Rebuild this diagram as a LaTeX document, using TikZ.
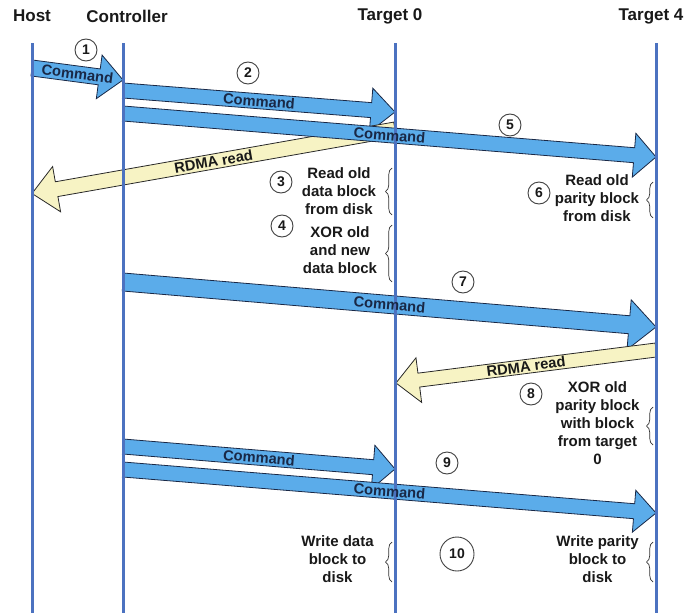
\documentclass[tikz,border=0pt]{standalone}
\usepackage{fontspec}
\setmainfont{Liberation Sans}
\usetikzlibrary{calc,decorations.pathreplacing}
\definecolor{lifeblue}{RGB}{76,114,192}
\definecolor{cmdfill}{RGB}{91,172,234}
\definecolor{cmdedge}{RGB}{25,40,70}
\definecolor{rdmafill}{RGB}{247,243,196}
\definecolor{rdmaedge}{RGB}{40,40,40}
\definecolor{txt}{RGB}{25,25,25}
\newcommand{\blockarrow}[6]{%
  \path coordinate (ba-b) at ($(#2)!#5!(#1)$);
  \draw[#6] ($(#1)!#3!90:(#2)$) -- ($(ba-b)!#3!90:(#2)$) -- ($(ba-b)!#4!90:(#2)$)
    -- (#2) -- ($(ba-b)!#4!-90:(#2)$) -- ($(ba-b)!#3!-90:(#2)$) -- ($(#1)!#3!-90:(#2)$) -- cycle;
}
\tikzset{
  cmdarrow/.style={fill=cmdfill, draw=cmdedge, line width=0.8pt, line join=miter},
  rdmaarrow/.style={fill=rdmafill, draw=rdmaedge, line width=0.8pt, line join=miter},
  lifeline/.style={draw=lifeblue, line width=3pt},
  title/.style={font=\fontsize{17}{20}\selectfont\bfseries, text=txt},
  cmdtext/.style={font=\fontsize{14.7}{17}\selectfont\bfseries, text=cmdedge, inner sep=0pt},
  rdmatext/.style={font=\fontsize{14.7}{17}\selectfont\bfseries, text=txt, inner sep=0pt},
  body/.style={font=\fontsize{15}{18}\selectfont\bfseries, text=txt, align=center, inner sep=0pt},
  stepnum/.style={circle, draw=black!75, line width=0.9pt, minimum size=22pt, inner sep=0pt,
    font=\fontsize{14}{16}\selectfont\bfseries, text=txt},
  bracedeco/.style={draw=black!80, line width=0.7pt, decorate, decoration={brace, amplitude=6.5pt}}
}
\begin{document}
\begin{tikzpicture}[x=1pt, y=-1pt]
\useasboundingbox (0,0) rectangle (691,613);
% titles
\node[title] (thost) at (32,16) {Host};
\node[title] (tctrl) at (127,16) {Controller};
\node[title] (tt0) at (390,16) {Target 0};
\node[title] (tt4) at (651,16) {Target 4};
% lifeline end points
\coordinate (hostTop) at (32,43);   \coordinate (hostBot) at (32,613);
\coordinate (ctrlTop) at (123,43);  \coordinate (ctrlBot) at (123,613);
\coordinate (t0Top) at (395,43);    \coordinate (t0Bot) at (395,613);
\coordinate (t4Top) at (656,43);    \coordinate (t4Bot) at (656,613);
% arrow end points
\coordinate (a1s) at (32,68);     \coordinate (a1e) at (123,80);
\coordinate (a2s) at (123,90.5);  \coordinate (a2e) at (395,112);
\coordinate (r1s) at (395,129.5); \coordinate (r1e) at (32,193.5);
\coordinate (a5s) at (123,113.5); \coordinate (a5e) at (656,157);
\coordinate (a7s) at (123,282);   \coordinate (a7e) at (656,327);
\coordinate (r2s) at (656,350);   \coordinate (r2e) at (396,383);
\coordinate (a9s) at (123,446.5); \coordinate (a9e) at (395,469);
\coordinate (b9s) at (123,469.5); \coordinate (b9e) at (656,513);
% arrows
\blockarrow{a1s}{a1e}{8pt}{22pt}{24pt}{cmdarrow}
\blockarrow{a2s}{a2e}{7.5pt}{22pt}{24pt}{cmdarrow}
\blockarrow{r1s}{r1e}{7.5pt}{23pt}{25pt}{rdmaarrow}
\blockarrow{a5s}{a5e}{7.5pt}{22pt}{22pt}{cmdarrow}
\blockarrow{a7s}{a7e}{9pt}{25pt}{27pt}{cmdarrow}
\blockarrow{r2s}{r2e}{7pt}{22.5pt}{23pt}{rdmaarrow}
\blockarrow{a9s}{a9e}{7.5pt}{22pt}{22pt}{cmdarrow}
\blockarrow{b9s}{b9e}{7.5pt}{21pt}{22pt}{cmdarrow}
% lifelines
\draw[lifeline] (hostTop) -- (hostBot);
\draw[lifeline] (ctrlTop) -- (ctrlBot);
\draw[lifeline] (t0Top) -- (t0Bot);
\draw[lifeline] (t4Top) -- (t4Bot);
% arrow labels
\path (a1s) -- (a1e) node[cmdtext, pos=0.5, sloped] (l1) {Command};
\path (a2s) -- (a2e) node[cmdtext, pos=0.5, sloped] (l2) {Command};
\path (r1s) -- (r1e) node[rdmatext, pos=0.5, sloped] (l3) {RDMA read};
\path (a5s) -- (a5e) node[cmdtext, pos=0.5, sloped] (l5) {Command};
\path (a7s) -- (a7e) node[cmdtext, pos=0.5, sloped] (l7) {Command};
\path (r2s) -- (r2e) node[rdmatext, pos=0.5, sloped] (l8) {RDMA read};
\path (a9s) -- (a9e) node[cmdtext, pos=0.5, sloped] (l9) {Command};
\path (b9s) -- (b9e) node[cmdtext, pos=0.5, sloped] (l10) {Command};
% step numbers
\node[stepnum] (s1) at (86,50) {1};
\node[stepnum] (s2) at (248,73) {2};
\node[stepnum] (s3) at (281,182) {3};
\node[stepnum] (s4) at (282,226) {4};
\node[stepnum] (s5) at (510,125) {5};
\node[stepnum] (s6) at (539,193) {6};
\node[stepnum] (s7) at (463,282) {7};
\node[stepnum] (s8) at (531,394) {8};
\node[stepnum] (s9) at (447,463) {9};
\node[stepnum, minimum size=34pt] (s10) at (457,554) {10};
% descriptions
\node[body] (d3) at (339,191) {Read old\\data block\\from disk};
\node[body] (d4) at (340,250) {XOR old\\and new\\data block};
\node[body] (d6) at (597,198) {Read old\\parity block\\from disk};
\node[body] (d8) at (597.5,423.5) {XOR old\\parity block\\with block\\from target\\0};
\node[body] (dw0) at (337.5,559) {Write data\\block to\\disk};
\node[body] (dw4) at (597.5,559) {Write parity\\block to\\disk};
% braces
\coordinate (b3a) at (392,215); \coordinate (b3b) at (392,168);
\coordinate (b4a) at (392,282); \coordinate (b4b) at (392,225);
\coordinate (b6a) at (653,218); \coordinate (b6b) at (653,182);
\coordinate (b8a) at (653,445); \coordinate (b8b) at (653,407);
\coordinate (bwa) at (392,582); \coordinate (bwb) at (392,542);
\coordinate (bxa) at (653,582); \coordinate (bxb) at (653,542);
\draw[bracedeco] (b3a) -- (b3b);
\draw[bracedeco] (b4a) -- (b4b);
\draw[bracedeco] (b6a) -- (b6b);
\draw[bracedeco] (b8a) -- (b8b);
\draw[bracedeco] (bwa) -- (bwb);
\draw[bracedeco] (bxa) -- (bxb);
\end{tikzpicture}
\end{document}
